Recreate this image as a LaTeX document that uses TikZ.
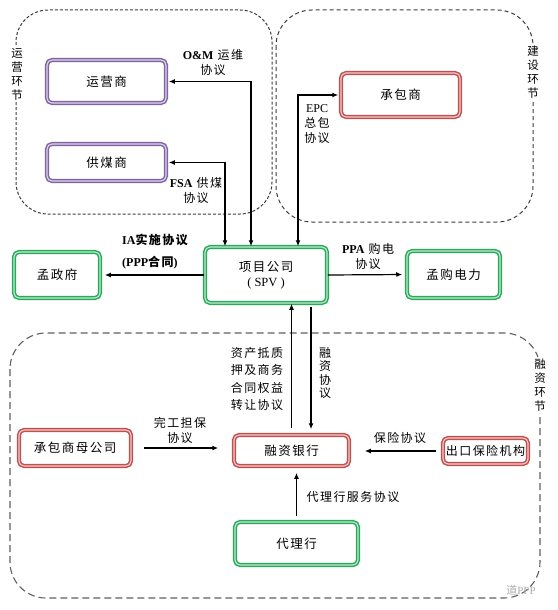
\documentclass[tikz,border=0pt]{standalone}
\usepackage{fontspec}
\setmainfont{Noto Sans CJK SC}[LetterSpace=12]
\newfontfamily\lat{Liberation Serif}
\usetikzlibrary{arrows.meta}
\definecolor{pur}{RGB}{128,100,162}
\definecolor{purl}{RGB}{225,215,238}
\definecolor{rd}{RGB}{192,80,77}
\definecolor{rdl}{RGB}{242,205,205}
\definecolor{gr}{RGB}{40,170,90}
\definecolor{grl}{RGB}{195,236,210}
\definecolor{dash}{RGB}{60,60,60}
\tikzset{
  base/.style={rectangle, rounded corners=5pt, inner sep=0pt, fill=white,
    line width=1.5pt, double distance=1.1pt,
    font=\fontsize{12.5}{14.5}\selectfont, align=center},
  pbox/.style={base, draw=pur, double=purl},
  rbox/.style={base, draw=rd, double=rdl},
  gbox/.style={base, draw=gr, double=grl},
  lab/.style={font=\fontsize{12}{15}\selectfont, align=center, inner sep=0pt},
  region/.style={draw=dash, line width=1pt},
  rlab/.style={font=\fontsize{11.5}{14}\selectfont, align=center, fill=white, inner sep=1.5pt},
  conn/.style={line width=1.2pt, -{Latex[length=6pt,width=5pt]}},
  conn2/.style={line width=1.2pt, {Latex[length=6pt,width=5pt]}-{Latex[length=6pt,width=5pt]}}
}
\begin{document}
\begin{tikzpicture}[x=1pt,y=-1pt]
\useasboundingbox (0,0) rectangle (557,610);
\fill[white] (0,0) rectangle (557,610);

% regions
\draw[region, dash pattern=on 3pt off 2pt, rounded corners=32pt] (16,10) rectangle (272,214);
\draw[region, dash pattern=on 4pt off 3pt, rounded corners=36pt] (276,10) rectangle (533,222);
\draw[region, draw=gray!75!black, line width=1.1pt, dash pattern=on 7pt off 4pt, rounded corners=36pt] (10,333) rectangle (540,598);
\node[rlab] (r1) at (17,74) {运\\营\\环\\节};
\node[rlab] (r2) at (533,72) {建\\设\\环\\节};
\node[rlab] (r3) at (540,385) {融\\资\\环\\节};

% boxes
\node[pbox, minimum width=119pt, minimum height=43pt] (yun) at (106.5,81.5) {运营商};
\node[pbox, minimum width=119pt, minimum height=37pt] (gong) at (106.5,162.5) {供煤商};
\node[rbox, minimum width=119pt, minimum height=44pt] (cheng) at (400.5,95) {承包商};
\node[gbox, minimum width=86pt, minimum height=46pt] (gov) at (57,275) {孟政府};
\node[gbox, minimum width=122pt, minimum height=56pt] (spv) at (266,275) {项目公司\\{\lat ( SPV )}};
\node[gbox, minimum width=93pt, minimum height=47pt] (power) at (453.5,274.5) {孟购电力};
\node[rbox, minimum width=112pt, minimum height=36pt] (mom) at (75,448) {承包商母公司};
\node[rbox, minimum width=115pt, minimum height=31pt] (bank) at (291.5,450.5) {融资银行};
\node[rbox, minimum width=85pt, minimum height=26pt, font=\fontsize{12}{14}\selectfont] (exp) at (485.5,451) {出口保险机构};
\node[gbox, minimum width=123pt, minimum height=43pt] (agent) at (296.5,543.5) {代理行};

% connectors
\draw[conn2, shorten >=2pt] ([xshift=-15pt]spv.north) |- (yun.east);
\draw[conn2, shorten >=2pt] ([xshift=-41pt]spv.north) |- (gong.east);
\draw[conn2, shorten >=2pt] ([xshift=32pt]spv.north) |- (cheng.west);
\draw[conn, shorten >=4pt] (spv.west) -- (gov.east);
\draw[conn, shorten >=4pt] (spv.east) -- (power.west);
\draw[conn, shorten <=6pt] (bank.north) -- (bank.north |- spv.south);
\draw[conn, shorten <=3pt, shorten >=5pt] ([xshift=19.5pt]bank.north |- spv.south) -- ([xshift=19.5pt]bank.north);
\draw[conn, shorten <=12pt, shorten >=15pt] (mom.east) -- (mom.east -| bank.west);
\draw[conn, shorten <=6pt, shorten >=15pt] (exp.west) -- (exp.west -| bank.east);
\draw[conn, shorten <=5pt, shorten >=6pt] (agent.north) -- (agent.north |- bank.south);

% labels
\node[lab] (l1) at (213,62.5) {{\lat\bfseries O\&M} 运维\\协议};
\node[lab] (l2) at (196,190.5) {{\lat\bfseries FSA} 供煤\\协议};
\node[lab] (l3) at (317,124) {{\lat EPC}\\总包\\协议};
\node[lab, align=left, anchor=west, font=\fontsize{12}{22}\selectfont\bfseries] (l4) at (122,252) {{\lat IA}实施协议\\{\lat (PPP}合同{\lat )}};
\node[lab] (l5) at (368,256.5) {{\lat\bfseries PPA} 购电\\协议};
\node[lab, font=\fontsize{12}{17.4}\selectfont] (l6) at (257,379) {资产抵质\\押及商务\\合同权益\\转让协议};
\node[lab, font=\fontsize{12}{13.5}\selectfont] (l7) at (325,373) {融\\资\\协\\议};
\node[lab] (l8) at (180,430.5) {完工担保\\协议};
\node[lab] (l9) at (400,438) {保险协议};
\node[lab] (l10) at (353,497) {代理行服务协议};

% watermark
\node[lab, text=gray!65, font=\fontsize{11}{12}\selectfont] (wm) at (521,590) {道{\lat PPP}};
\end{tikzpicture}
\end{document}
